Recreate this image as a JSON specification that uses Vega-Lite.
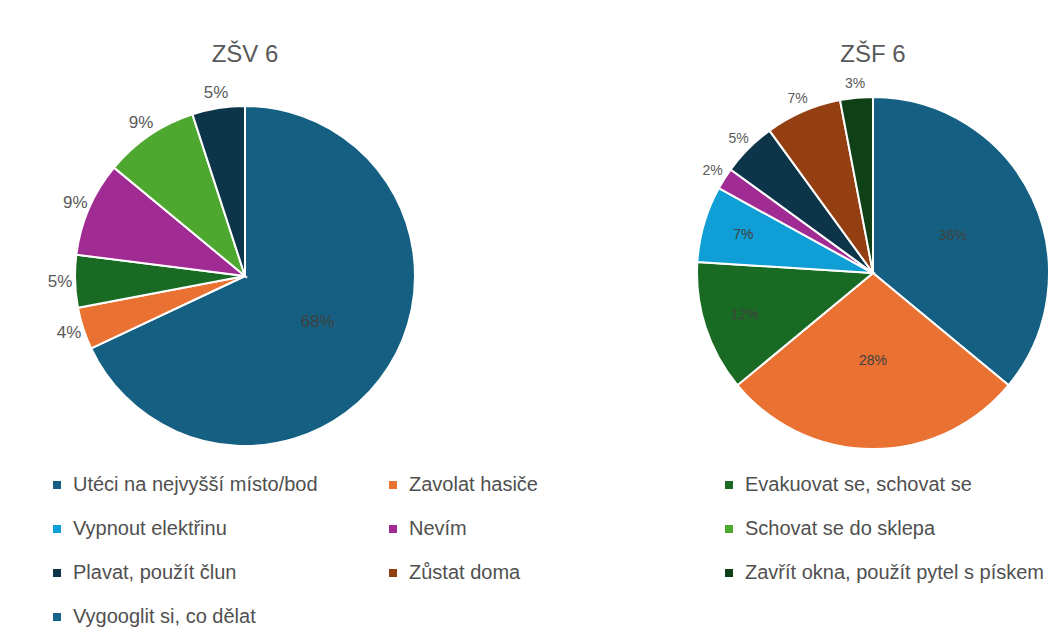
{
  "$schema": "https://vega.github.io/schema/vega-lite/v6.json",
  "background": "white",
  "padding": {"left": 45, "top": 42, "right": 0, "bottom": 0},
  "datasets": {
    "zsv": [
      {"odpoved": "Utéci na nejvyšší místo/bod", "share": 0.68, "poradi": 1},
      {"odpoved": "Zavolat hasiče", "share": 0.04, "poradi": 2},
      {"odpoved": "Evakuovat se, schovat se", "share": 0.05, "poradi": 3},
      {"odpoved": "Nevím", "share": 0.09, "poradi": 5},
      {"odpoved": "Schovat se do sklepa", "share": 0.09, "poradi": 6},
      {"odpoved": "Plavat, použít člun", "share": 0.05, "poradi": 7}
    ],
    "zsf": [
      {"odpoved": "Utéci na nejvyšší místo/bod", "share": 0.36, "poradi": 1},
      {"odpoved": "Zavolat hasiče", "share": 0.28, "poradi": 2},
      {"odpoved": "Evakuovat se, schovat se", "share": 0.12, "poradi": 3},
      {"odpoved": "Vypnout elektřinu", "share": 0.07, "poradi": 4},
      {"odpoved": "Nevím", "share": 0.02, "poradi": 5},
      {"odpoved": "Plavat, použít člun", "share": 0.05, "poradi": 7},
      {"odpoved": "Zůstat doma", "share": 0.07, "poradi": 8},
      {"odpoved": "Zavřít okna, použít pytel s pískem", "share": 0.03, "poradi": 9}
    ]
  },
  "config": {
    "view": {"stroke": null},
    "font": "Liberation Sans",
    "title": {"fontSize": 24, "fontWeight": "normal", "color": "#595959", "offset": 10, "font": "Liberation Sans"}
  },
  "spacing": 245,
  "resolve": {"scale": {"theta": "independent", "color": "shared"}},
  "hconcat": [
    {
      "width": 400,
      "height": 398,
      "title": "ZŠV 6",
      "data": {"name": "zsv"},
      "encoding": {
        "theta": {"field": "share", "type": "quantitative", "stack": true},
        "order": {"field": "poradi", "type": "quantitative"}
      },
      "layer": [
        {
          "mark": {"type": "arc", "outerRadius": 170, "stroke": "white", "strokeWidth": 2},
          "encoding": {
            "color": {
              "field": "odpoved", "type": "nominal",
              "scale": {
                "domain": ["Utéci na nejvyšší místo/bod", "Zavolat hasiče", "Evakuovat se, schovat se", "Vypnout elektřinu", "Nevím", "Schovat se do sklepa", "Plavat, použít člun", "Zůstat doma", "Zavřít okna, použít pytel s pískem", "Vygooglit si, co dělat"],
                "range": ["#156082", "#E97132", "#196B24", "#0F9ED5", "#A02B93", "#4EA72E", "#0D3549", "#943F12", "#0F4016", "#17658A"]
              },
              "legend": {
                "title": null, "orient": "none", "legendX": 2, "legendY": 398,
                "direction": "horizontal",
                "columns": 3, "gridAlign": "all", "columnPadding": 10, "rowPadding": 24,
                "symbolType": "square", "symbolSize": 64, "symbolStrokeWidth": 0,
                "labelFontSize": 20, "labelColor": "#505050", "labelOffset": 6, "labelLimit": 400
              }
            }
          }
        },
        {
          "mark": {"type": "text", "radius": 86, "fontSize": 17, "fill": "#404040"},
          "encoding": {
            "detail": {"field": "odpoved", "type": "nominal"},
            "text": {"condition": {"test": "datum.share > 0.5", "field": "share", "type": "quantitative", "format": ".0%"}, "value": ""}
          }
        },
        {
          "mark": {"type": "text", "radius": 185, "fontSize": 17, "fill": "#595959"},
          "encoding": {
            "detail": {"field": "odpoved", "type": "nominal"},
            "text": {"condition": {"test": "datum.share < 0.5", "field": "share", "type": "quantitative", "format": ".0%"}, "value": ""}
          }
        }
      ]
    },
    {
      "width": 360,
      "height": 392,
      "title": "ZŠF 6",
      "data": {"name": "zsf"},
      "encoding": {
        "theta": {"field": "share", "type": "quantitative", "stack": true},
        "order": {"field": "poradi", "type": "quantitative"}
      },
      "layer": [
        {
          "mark": {"type": "arc", "outerRadius": 176, "stroke": "white", "strokeWidth": 2},
          "encoding": {
            "color": {
              "field": "odpoved", "type": "nominal",
              "scale": {
                "domain": ["Utéci na nejvyšší místo/bod", "Zavolat hasiče", "Evakuovat se, schovat se", "Vypnout elektřinu", "Nevím", "Schovat se do sklepa", "Plavat, použít člun", "Zůstat doma", "Zavřít okna, použít pytel s pískem", "Vygooglit si, co dělat"],
                "range": ["#156082", "#E97132", "#196B24", "#0F9ED5", "#A02B93", "#4EA72E", "#0D3549", "#943F12", "#0F4016", "#17658A"]
              }
            }
          }
        },
        {
          "mark": {"type": "text", "radius": 88, "fontSize": 14, "fill": "#404040"},
          "encoding": {
            "detail": {"field": "odpoved", "type": "nominal"},
            "text": {"condition": {"test": "datum.share >= 0.2", "field": "share", "type": "quantitative", "format": ".0%"}, "value": ""}
          }
        },
        {
          "mark": {"type": "text", "radius": 135, "fontSize": 14, "fill": "#404040"},
          "encoding": {
            "detail": {"field": "odpoved", "type": "nominal"},
            "text": {"condition": {"test": "datum.odpoved == 'Evakuovat se, schovat se' || datum.odpoved == 'Vypnout elektřinu'", "field": "share", "type": "quantitative", "format": ".0%"}, "value": ""}
          }
        },
        {
          "mark": {"type": "text", "radius": 190, "fontSize": 14, "fill": "#595959"},
          "encoding": {
            "detail": {"field": "odpoved", "type": "nominal"},
            "text": {"condition": {"test": "datum.share < 0.1 && datum.odpoved != 'Vypnout elektřinu'", "field": "share", "type": "quantitative", "format": ".0%"}, "value": ""}
          }
        }
      ]
    }
  ]
}
